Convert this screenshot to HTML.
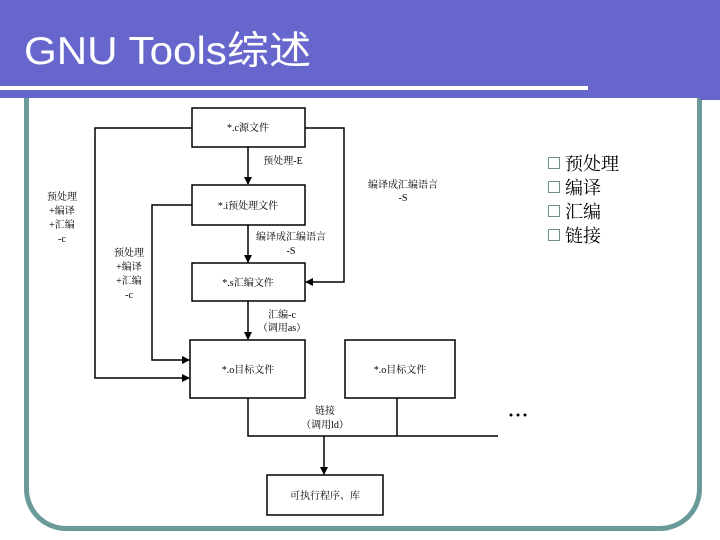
<!DOCTYPE html>
<html><head><meta charset="utf-8"><style>
body{margin:0;width:720px;height:540px;overflow:hidden;background:#fff;position:relative;font-family:"Liberation Serif","Noto Serif CJK SC",serif}
.hdr{position:absolute;left:0;top:0;width:705px;height:98px;background:#6666cc}
.notch{position:absolute;left:700px;top:0;width:20px;height:100px;background:#6666cc}
.wl{position:absolute;left:0;top:86px;width:588px;height:4px;background:#fff}
.title{position:absolute;left:24px;top:20px;color:#fff;font:39px "Liberation Sans","Noto Sans CJK SC",sans-serif;transform:scaleX(1.08);transform-origin:left}
.frame{position:absolute;left:24px;top:60px;width:668px;height:466px;border:5px solid #6b9a9a;border-top:none;border-radius:0 0 42px 42px}
.b{position:absolute;left:548px;font:18px "Liberation Serif","Noto Serif CJK SC",serif;color:#000}
.b span{display:inline-block;width:10px;height:10px;border:1px solid #6b8e8e;margin-right:5px;vertical-align:1px}
</style></head><body>
<div class="frame"></div>
<div class="hdr"></div><div class="notch"></div><div class="wl"></div>
<div class="title">GNU Tools综述</div>
<svg width="720" height="540" style="position:absolute;left:0;top:0" font-family="Liberation Serif, Noto Serif CJK SC, serif" font-size="10">
<defs><marker id="a" markerWidth="8" markerHeight="8" refX="7" refY="4" orient="auto" markerUnits="userSpaceOnUse"><path d="M0,0L8,4L0,8z" fill="#000"/></marker></defs>
<g fill="#fff" stroke="#000" stroke-width="1.5">
<rect x="192" y="108" width="113" height="39"/>
<rect x="192" y="185" width="113" height="40"/>
<rect x="192" y="263" width="113" height="38"/>
<rect x="190" y="340" width="115" height="58"/>
<rect x="345" y="340" width="110" height="58"/>
<rect x="267" y="475" width="116" height="40"/>
</g>
<g fill="none" stroke="#000" stroke-width="1.5">
<path d="M248 147V184" marker-end="url(#a)"/>
<path d="M248 225V262" marker-end="url(#a)"/>
<path d="M248 301V339" marker-end="url(#a)"/>
<path d="M192 128H95V378H189" marker-end="url(#a)"/>
<path d="M192 205H152V360H189" marker-end="url(#a)"/>
<path d="M305 128H344V282H306" marker-end="url(#a)"/>
<path d="M248 398V436H498M397 398V436"/>
<path d="M324 436V474" marker-end="url(#a)"/>
</g>
<g text-anchor="middle" fill="#000">
<text x="248" y="131">*.c源文件</text>
<text x="248" y="209">*.i预处理文件</text>
<text x="248" y="286">*.s汇编文件</text>
<text x="248" y="373">*.o目标文件</text>
<text x="400" y="373">*.o目标文件</text>
<text x="325" y="499">可执行程序、库</text>
<text x="283" y="164">预处理-E</text>
<text x="403" y="188">编译成汇编语言</text><text x="403" y="201">-S</text>
<text x="291" y="240">编译成汇编语言</text><text x="291" y="254">-S</text>
<text x="282" y="318">汇编-c</text><text x="282" y="331">（调用as）</text>
<text x="325" y="414">链接</text><text x="325" y="428">（调用ld）</text>
<text x="62" y="200">预处理</text><text x="62" y="214">+编译</text><text x="62" y="228">+汇编</text><text x="62" y="242">-c</text>
<text x="129" y="256">预处理</text><text x="129" y="270">+编译</text><text x="129" y="284">+汇编</text><text x="129" y="298">-c</text>
</g>
<g fill="#000"><circle cx="511" cy="415" r="1.5"/><circle cx="518" cy="415" r="1.5"/><circle cx="525" cy="415" r="1.5"/></g>
</svg>
<div class="b" style="top:150px"><span></span>预处理</div>
<div class="b" style="top:174px"><span></span>编译</div>
<div class="b" style="top:198px"><span></span>汇编</div>
<div class="b" style="top:222px"><span></span>链接</div>
</body></html>
